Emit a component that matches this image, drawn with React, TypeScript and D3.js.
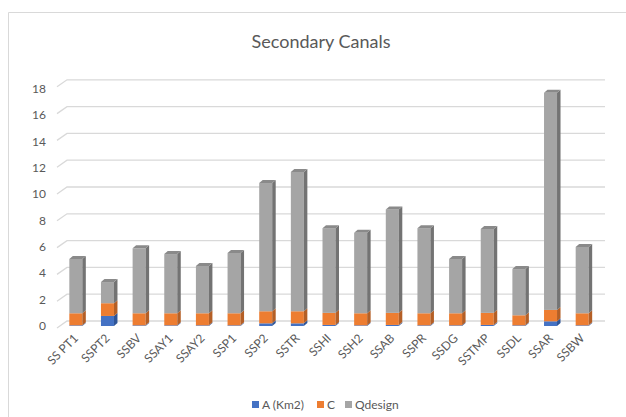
import React from "react";
import * as d3 from "d3";

const categories = ["SS PT1","SSPT2","SSBV","SSAY1","SSAY2","SSP1","SSP2","SSTR","SSHI","SSH2","SSAB","SSPR","SSDG","SSTMP","SSDL","SSAR","SSBW"];
const seriesA = [0.05,0.75,0.05,0.05,0.05,0.05,0.2,0.2,0.08,0.05,0.08,0.05,0.05,0.08,0.05,0.35,0.05];
const seriesC = [0.9,0.95,0.9,0.9,0.9,0.9,0.9,0.9,0.9,0.9,0.9,0.9,0.9,0.9,0.75,0.85,0.9];
const seriesQ = [4.05,1.58,4.85,4.42,3.53,4.5,9.57,10.4,6.32,6.0,7.72,6.35,4.05,6.26,3.45,16.2,4.95];
const yTicks = [0,2,4,6,8,10,12,14,16,18];
const seriesNames = ["A (Km2)","C","Qdesign"];

const W = 626, H = 417;
const FONT = "Lato, 'Open Sans', sans-serif";
const TXT = "#595959";

const colors = [
  { front: "#4472c4", side: "#2f5597", top: "#3a64b0" },
  { front: "#ed7d31", side: "#b45f26", top: "#d06d2b" },
  { front: "#a5a5a5", side: "#737373", top: "#8a8a8a" },
];

export default function App() {
  const x = d3.scalePoint<string>().domain(categories).range([60, 598]).padding(0.5);
  const y = d3.scaleLinear().domain([0, 18]).range([326, 326 - 18 * 13.4]);
  const yLab = d3.scaleLinear().domain([0, 18]).range([327, 90]);
  const bw = 13, dx = 3.5, dy = -3;

  const rows = categories.map((c, i) => ({ c, vals: [seriesA[i], seriesC[i], seriesQ[i]] }));
  const stack = rows.map((r) => {
    let acc = 0;
    return r.vals.map((v, k) => {
      const s = { k, y0: acc, y1: acc + v };
      acc += v;
      return s;
    });
  });

  return (
    <svg width={W} height={H} style={{ position: "absolute", left: 0, top: 0, background: "#fff" }}>
      <rect x={0} y={0} width={W} height={H} fill="#fff" />
      <path d={`M8.5,${H} L8.5,12.5 L${W},12.5`} fill="none" stroke="#d9d9d9" strokeWidth={1} />
      <text x={321} y={48} textAnchor="middle" fontFamily={FONT} fontSize={18} fill={TXT}>Secondary Canals</text>

      {yTicks.map((t) => {
        const yf = y(t) + 2;
        const yb = y(t) - 5;
        return (
          <g key={t}>
            <path d={`M57,${yf} L67,${yb} L605,${yb}`} fill="none" stroke="#d9d9d9" strokeWidth={1.3} />
            <text x={46} y={yLab(t)} textAnchor="end" dominantBaseline="middle" fontFamily={FONT} fontSize={12} fill={TXT}>{t}</text>
          </g>
        );
      })}

      {stack.map((segs, i) => {
        const cx = x(categories[i])!;
        const x0 = cx - bw / 2, x1 = cx + bw / 2;
        const last = segs[segs.length - 1];
        return (
          <g key={i}>
            {segs.map((s) => {
              const yt = y(s.y1), yb = y(s.y0);
              const col = colors[s.k];
              return (
                <g key={s.k}>
                  <rect x={x0} y={yt} width={bw} height={Math.max(0, yb - yt)} fill={col.front} />
                  <path d={`M${x1},${yb} L${x1 + dx},${yb + dy} L${x1 + dx},${yt + dy} L${x1},${yt} Z`} fill={col.side} />
                </g>
              );
            })}
            <path
              d={`M${x0},${y(last.y1)} L${x0 + dx},${y(last.y1) + dy} L${x1 + dx},${y(last.y1) + dy} L${x1},${y(last.y1)} Z`}
              fill={colors[2].top}
            />
          </g>
        );
      })}

      {categories.map((c) => {
        const cx = x(c)!;
        return (
          <text key={c} transform={`translate(${cx + 3},${339}) rotate(-45)`} textAnchor="end" fontFamily={FONT} fontSize={12} fill={TXT}>{c}</text>
        );
      })}

      {seriesNames.map((n, k) => {
        const lx = [252, 317, 345][k];
        return (
          <g key={n}>
            <rect x={lx} y={401} width={7} height={7} fill={colors[k].front} />
            <text x={lx + 10} y={409} fontFamily={FONT} fontSize={12} fill={TXT}>{n}</text>
          </g>
        );
      })}
    </svg>
  );
}
